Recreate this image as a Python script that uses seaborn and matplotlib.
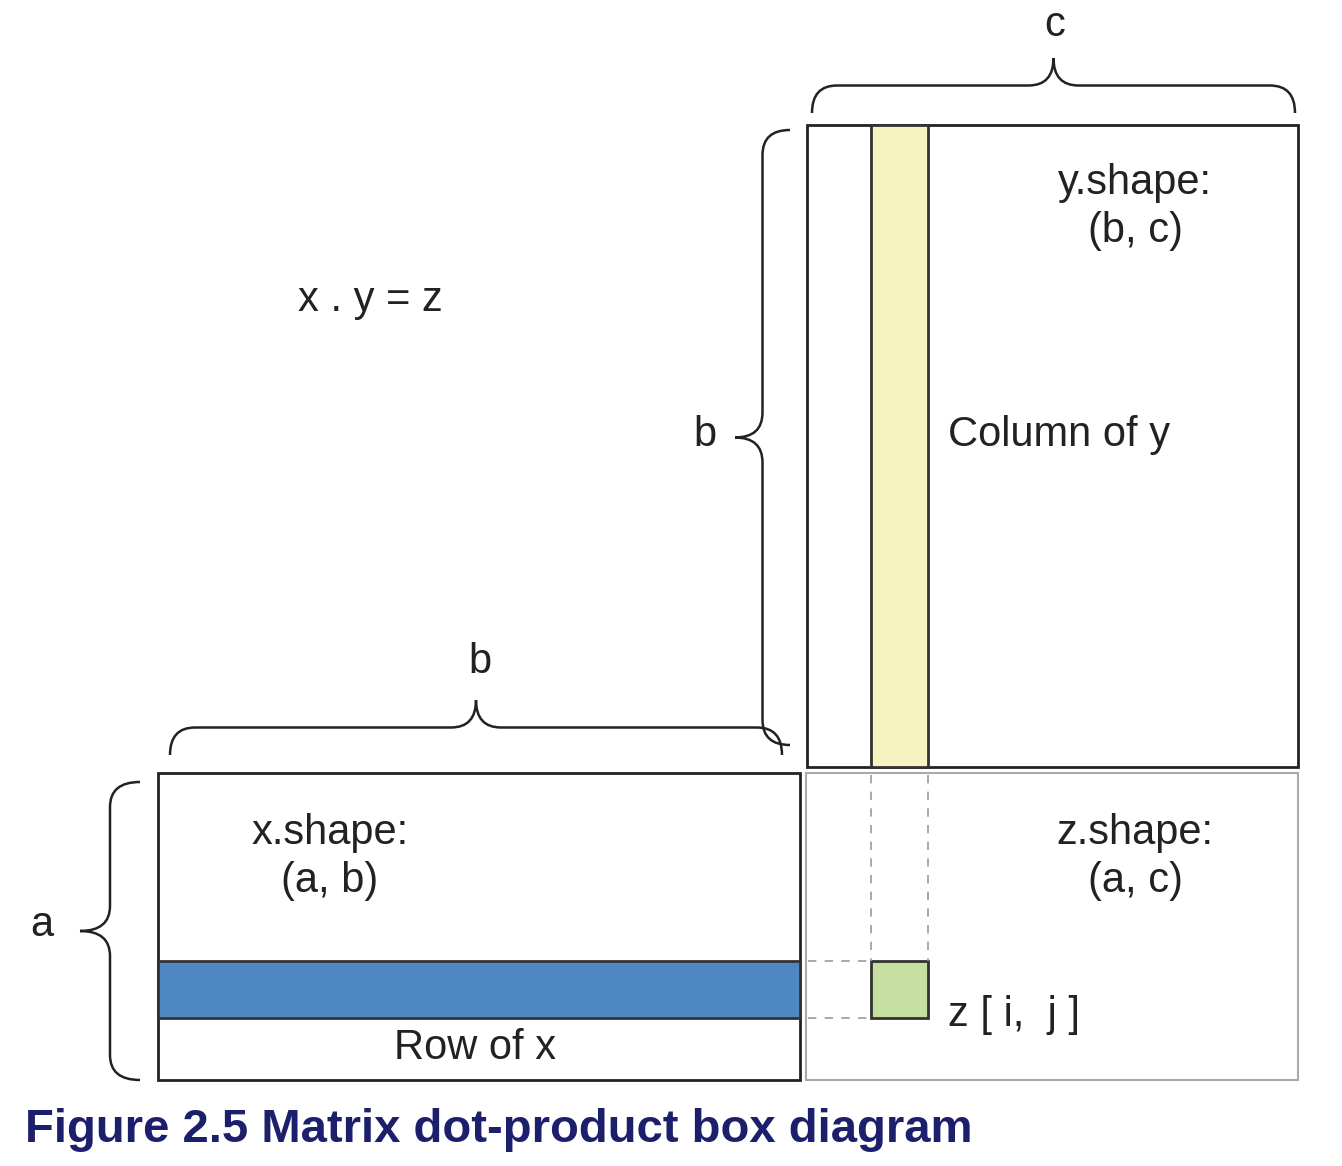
import seaborn as sns
import matplotlib.pyplot as plt
from matplotlib.patches import Rectangle, PathPatch
from matplotlib.path import Path

sns.set_style("white")
plt.rcParams['font.family'] = ['Liberation Sans', 'DejaVu Sans']

# boxes: (x0, y0, x1, y1, face, edge, lw)
box_names = ["y", "ycol", "x", "xrow", "z", "zcell"]
box_x0 = [807, 871, 158, 158, 806, 871]
box_y0 = [125, 125, 773, 961, 773, 961]
box_x1 = [1298, 928, 800, 800, 1298, 928]
box_y1 = [767, 767, 1080, 1018, 1080, 1018]
box_face = ["white", "#f7f3c0", "white", "#4f87c4", "white", "#c4dfa0"]
box_edge = ["#222222", "#333333", "#222222", "#333333", "#aaaaaa", "#333333"]

labels = ["x . y = z", "y.shape:\n(b, c)", "Column of y", "x.shape:\n(a, b)",
          "Row of x", "z.shape:\n(a, c)", "z [ i,  j ]", "c", "b", "b", "a"]
label_x = [370, 1135, 948, 330, 475, 1135, 948, 1055, 480, 705, 42]
label_y = [300, 207, 435, 857, 1048, 857, 1015, 25, 662, 435, 925]
label_ha = ["center", "center", "left", "center", "center", "center", "left",
            "center", "center", "center", "center"]


def brace(ax, a0, a1, base, depth, horizontal=True):
    m = (a0 + a1) / 2
    h = depth / 2
    r = 25
    pts = [(a0, base), (a0, base - h), (a0 + r, base - h), (m - r, base - h),
           (m, base - h), (m, base - depth), (m, base - h), (m + r, base - h),
           (a1 - r, base - h), (a1, base - h), (a1, base)]
    codes = [Path.MOVETO, Path.CURVE3, Path.CURVE3, Path.LINETO,
             Path.CURVE3, Path.CURVE3, Path.CURVE3, Path.CURVE3,
             Path.LINETO, Path.CURVE3, Path.CURVE3]
    if not horizontal:
        pts = [(q, p) for p, q in pts]
    ax.add_patch(PathPatch(Path(pts, codes), fill=False, lw=1.8, color="#222222"))


fig = plt.figure(figsize=(13.42, 11.66), dpi=100)
ax = fig.add_axes([0, 0, 1, 1])
ax.set_xlim(0, 1342)
ax.set_ylim(1166, 0)
ax.axis("off")

for i in range(len(box_names)):
    lw = 2 if box_names[i] != "z" else 1.5
    ax.add_patch(Rectangle((box_x0[i], box_y0[i]), box_x1[i] - box_x0[i],
                           box_y1[i] - box_y0[i], facecolor=box_face[i],
                           edgecolor=box_edge[i], lw=lw, zorder=2))

# dashed guides
for xv in [871, 928]:
    ax.plot([xv, xv], [775, 961], ls=(0, (5, 5)), color="#999999", lw=1.2)
for yv in [961, 1018]:
    ax.plot([808, 871], [yv, yv], ls=(0, (5, 5)), color="#999999", lw=1.2)

brace(ax, 812, 1295, 113, 55)
brace(ax, 170, 782, 755, 55)
brace(ax, 130, 745, 790, 55, horizontal=False)
brace(ax, 782, 1080, 140, 60, horizontal=False)

for t, xx, yy, ha in zip(labels, label_x, label_y, label_ha):
    ax.text(xx, yy, t, ha=ha, va="center", fontsize=30, color="#222222",
            linespacing=1.25, zorder=3)

ax.text(25, 1130, "Figure 2.5 Matrix dot-product box diagram", fontsize=34,
        fontweight="bold", color="#1c1f6b", va="center", ha="left")

plt.savefig("out.png", dpi=100)
plt.close()
